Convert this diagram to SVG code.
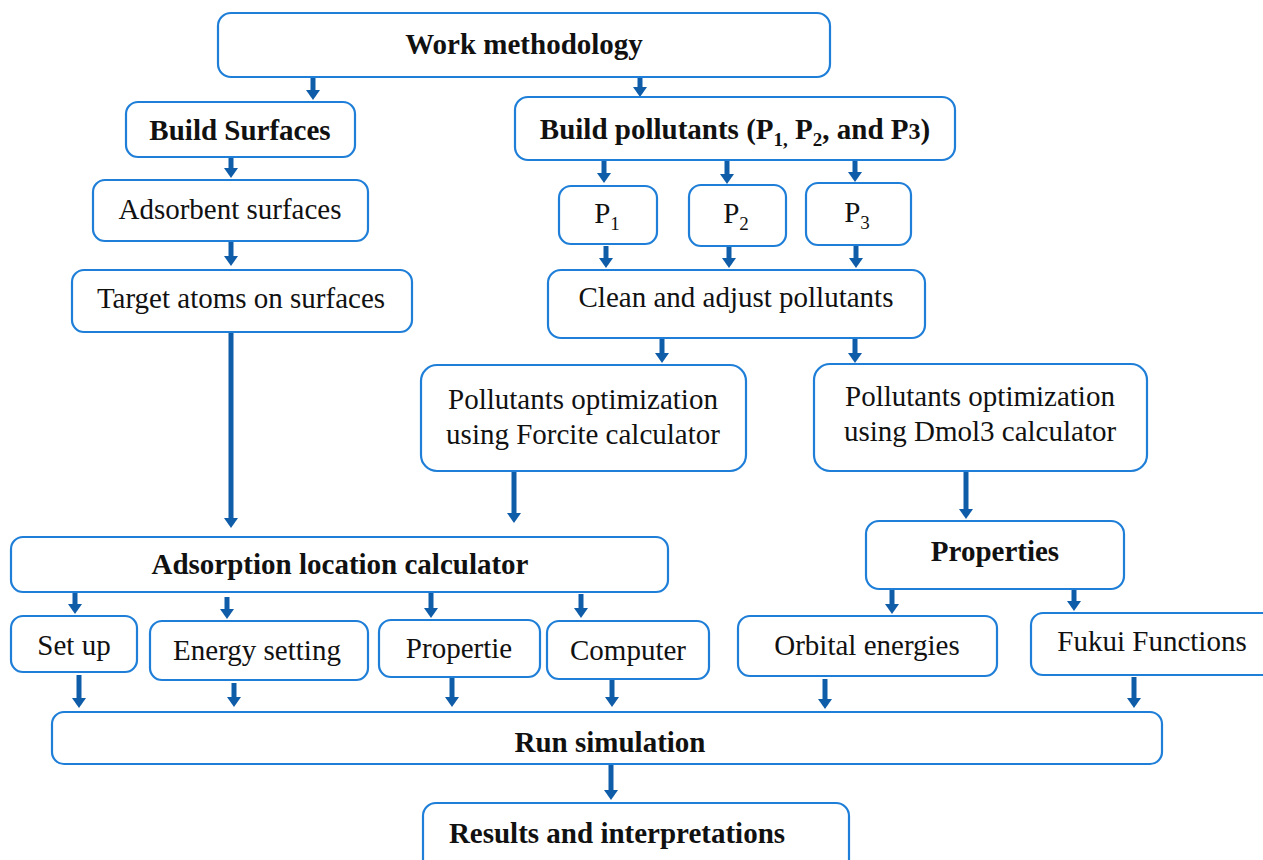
<svg xmlns="http://www.w3.org/2000/svg" width="1263" height="860" viewBox="0 0 1263 860">
<style>
.box{fill:#fff;stroke:#1f7fd8;stroke-width:2.2}
.t{font-family:"Liberation Serif","Times New Roman",serif;font-size:29px;fill:#111;text-anchor:middle}
.b{font-weight:bold;font-size:29px}
.arr{stroke:#0f5ca8;stroke-width:5;fill:none;marker-end:url(#ah)}
</style>
<defs>
<marker id="ah" markerUnits="userSpaceOnUse" markerWidth="10" markerHeight="14" refX="1" refY="7" orient="auto" viewBox="0 0 10 14">
<path d="M0,0 L10,7 L0,14 Z" fill="#0f5ca8"/>
</marker>
</defs>
<rect width="1263" height="860" fill="#fff"/>
<g id="connectors">
<line class="arr" x1="313" y1="77" x2="313" y2="91"/>
<line class="arr" x1="640" y1="77" x2="640" y2="88"/>
<line class="arr" x1="231" y1="157" x2="231" y2="169"/>
<line class="arr" x1="231" y1="241" x2="231" y2="257"/>
<line class="arr" x1="604" y1="160" x2="604" y2="174"/>
<line class="arr" x1="727" y1="160" x2="727" y2="175"/>
<line class="arr" x1="855" y1="158" x2="855" y2="173"/>
<line class="arr" x1="606" y1="246" x2="606" y2="259"/>
<line class="arr" x1="729" y1="246" x2="729" y2="259"/>
<line class="arr" x1="856" y1="246" x2="856" y2="259"/>
<line class="arr" x1="231" y1="332" x2="231" y2="519"/>
<line class="arr" x1="662" y1="338" x2="662" y2="354"/>
<line class="arr" x1="855" y1="338" x2="855" y2="354"/>
<line class="arr" x1="514" y1="471" x2="514" y2="514"/>
<line class="arr" x1="966" y1="471" x2="966" y2="510"/>
<line class="arr" x1="75" y1="592" x2="75" y2="605"/>
<line class="arr" x1="227" y1="597" x2="227" y2="610"/>
<line class="arr" x1="431" y1="592" x2="431" y2="609"/>
<line class="arr" x1="581" y1="594" x2="581" y2="609"/>
<line class="arr" x1="892" y1="589" x2="892" y2="605"/>
<line class="arr" x1="1074" y1="589" x2="1074" y2="602"/>
<line class="arr" x1="79" y1="675" x2="79" y2="699"/>
<line class="arr" x1="234" y1="683" x2="234" y2="698"/>
<line class="arr" x1="452" y1="677" x2="452" y2="698"/>
<line class="arr" x1="612" y1="679" x2="612" y2="698"/>
<line class="arr" x1="825" y1="679" x2="825" y2="700"/>
<line class="arr" x1="1134" y1="677" x2="1134" y2="699"/>
<line class="arr" x1="611" y1="764" x2="611" y2="791"/>
</g>
<g id="work"><rect class="box" x="218" y="13" width="612" height="64" rx="13"/><text class="t b" x="524" y="54">Work methodology</text></g>
<g id="buildSurfaces"><rect class="box" x="126" y="102" width="229" height="55" rx="12"/><text class="t b" x="240" y="140">Build Surfaces</text></g>
<g id="buildPollutants"><rect class="box" x="515" y="97" width="440" height="63" rx="13"/><text class="t b" x="735" y="139">Build pollutants (P<tspan font-size="19" dy="7">1,</tspan><tspan dy="-7"> P</tspan><tspan font-size="19" dy="7">2</tspan><tspan dy="-7">, and P</tspan><tspan font-size="24">3</tspan>)</text></g>
<g id="p1"><rect class="box" x="559" y="186" width="98" height="58" rx="12"/><text class="t" x="607" y="223">P<tspan font-size="19" dy="7">1</tspan></text></g>
<g id="p2"><rect class="box" x="689" y="185" width="97" height="61" rx="12"/><text class="t" x="736" y="223">P<tspan font-size="19" dy="7">2</tspan></text></g>
<g id="p3"><rect class="box" x="806" y="183" width="105" height="62" rx="12"/><text class="t" x="857" y="222">P<tspan font-size="19" dy="7">3</tspan></text></g>
<g id="adsorbent"><rect class="box" x="93" y="180" width="275" height="61" rx="12"/><text class="t" x="230" y="219">Adsorbent surfaces</text></g>
<g id="target"><rect class="box" x="72" y="270" width="340" height="62" rx="12"/><text class="t" x="241" y="308">Target atoms on surfaces</text></g>
<g id="clean"><rect class="box" x="548" y="270" width="377" height="68" rx="13"/><text class="t" x="736" y="307">Clean and adjust pollutants</text></g>
<g id="forcite"><rect class="box" x="421" y="365" width="325" height="106" rx="16"/><text class="t" x="583" y="409">Pollutants optimization</text><text class="t" x="583" y="444">using Forcite calculator</text></g>
<g id="dmol3"><rect class="box" x="814" y="364" width="333" height="107" rx="16"/><text class="t" x="980" y="406">Pollutants optimization</text><text class="t" x="980" y="441">using Dmol3 calculator</text></g>
<g id="adsorption"><rect class="box" x="11" y="537" width="657" height="55" rx="12"/><text class="t b" x="340" y="574">Adsorption location calculator</text></g>
<g id="properties"><rect class="box" x="866" y="521" width="258" height="68" rx="13"/><text class="t b" x="995" y="561">Properties</text></g>
<g id="setup"><rect class="box" x="11" y="616" width="126" height="56" rx="12"/><text class="t" x="74" y="655">Set up</text></g>
<g id="energy"><rect class="box" x="150" y="621" width="218" height="59" rx="12"/><text class="t" x="257" y="660">Energy setting</text></g>
<g id="propertie"><rect class="box" x="379" y="620" width="161" height="57" rx="12"/><text class="t" x="459" y="658">Propertie</text></g>
<g id="computer"><rect class="box" x="547" y="621" width="162" height="58" rx="12"/><text class="t" x="628" y="660">Computer</text></g>
<g id="orbital"><rect class="box" x="738" y="616" width="259" height="60" rx="12"/><text class="t" x="867" y="655">Orbital energies</text></g>
<g id="fukui"><rect class="box" x="1031" y="613" width="250" height="62" rx="12"/><text class="t" x="1152" y="651">Fukui Functions</text></g>
<g id="run"><rect class="box" x="52" y="712" width="1110" height="52" rx="12"/><text class="t b" x="610" y="752">Run simulation</text></g>
<g id="results"><rect class="box" x="423" y="803" width="426" height="80" rx="13"/><text class="t b" x="617" y="843">Results and interpretations</text></g>
</svg>
